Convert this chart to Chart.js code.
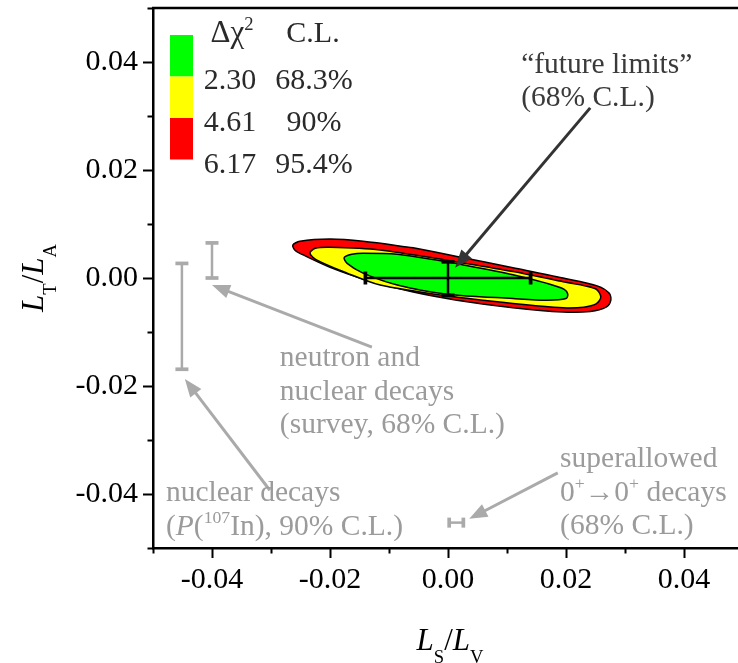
<!DOCTYPE html>
<html>
<head>
<meta charset="utf-8">
<script src="https://cdn.jsdelivr.net/npm/chart.js@4.4.0/dist/chart.umd.min.js"></script>
<style>
  html, body { margin: 0; padding: 0; background: #fff; }
  #wrap { width: 738px; height: 663px; }
</style>
</head>
<body>
<div id="wrap"><canvas id="chartLimites" width="738" height="663"></canvas></div>
<script>
// --- Datos: contornos de Δχ² en el plano (LS/LV, LT/LA) ---
const contour95X = [-0.0059, 0.0015, 0.0110, 0.0195, 0.0254, 0.0273, 0.0276, 0.0268, 0.0241, 0.0195, 0.0110, 0.0015, -0.0059, -0.0137, -0.0200, -0.0242, -0.0259, -0.0263, -0.0251, -0.0200, -0.0144, -0.0059];
const contour95Y = [0.0056, 0.0040, 0.0019, 0.0000, -0.0015, -0.0028, -0.0041, -0.0054, -0.0062, -0.0063, -0.0055, -0.0041, -0.0026, -0.0004, 0.0020, 0.0041, 0.0051, 0.0061, 0.0068, 0.0072, 0.0068, 0.0056];

const contour90X = [-0.0002, 0.0110, 0.0195, 0.0250, 0.0259, 0.0251, 0.0230, 0.0195, 0.0110, -0.0002, -0.0115, -0.0171, -0.0222, -0.0234, -0.0225, -0.0200, -0.0115, -0.0002];
const contour90Y = [0.0033, 0.0012, -0.0007, -0.0020, -0.0035, -0.0048, -0.0054, -0.0055, -0.0047, -0.0033, -0.0013, 0.0009, 0.0033, 0.0046, 0.0055, 0.0057, 0.0052, 0.0033];

const contour68X = [-0.0002, 0.0110, 0.0168, 0.0197, 0.0203, 0.0200, 0.0168, 0.0110, -0.0002, -0.0086, -0.0144, -0.0171, -0.0176, -0.0163, -0.0144, -0.0086, -0.0002];
const contour68Y = [0.0030, 0.0006, -0.0010, -0.0021, -0.0030, -0.0038, -0.0041, -0.0038, -0.0030, -0.0013, 0.0009, 0.0027, 0.0038, 0.0044, 0.0046, 0.0044, 0.0030];

// --- Leyenda ---
const deltaChi2 = ['2.30', '4.61', '6.17'];
const nivelesCL = ['68.3%', '90%', '95.4%'];
const coloresCL = ['#00ff00', '#ffff00', '#ff0000'];

// --- Barras de error (límites experimentales) ---
const neutronX = -0.0400;            // neutron and nuclear decays (survey)
const neutronY = [0.0000, 0.0065];
const indioX = -0.0451;              // nuclear decays P(107In)
const indioY = [-0.0169, 0.0027];
const superY = -0.0453;              // superallowed 0+ -> 0+
const superX = [0.0002, 0.0026];
const futuroH = [-0.0140, 0.0140];   // "future limits" en LS/LV (y = 0)
const futuroV = [-0.0032, 0.0030];   // "future limits" en LT/LA (x = 0)

// --- Ejes ---
const ejeX = { min: -0.05, max: 0.04915 };
const ejeY = { min: -0.05, max: 0.05 };

const SERIF = '"Liberation Serif", "Times New Roman", serif';
const GRIS = '#aaaaaa';
const GRIS_TEXTO = '#9b9b9b';

const zipXY = (xs, ys) => xs.map((x, i) => ({ x: x, y: ys[i] }));
const esMayor = v => Math.abs(Math.round(v * 100)) % 2 === 0;

// contorno cerrado relleno
const contorno = (xs, ys, color, order) => ({
    data: zipXY(xs, ys),
    showLine: true,
    fill: 'shape',
    backgroundColor: color,
    borderColor: '#000',
    borderWidth: 1.5,
    tension: 0.3,
    pointRadius: 0,
    order: order
});

// barra de error con topes (pointStyle 'line')
const barra = (pts, color, ancho, tope, rot, order) => ({
    data: pts,
    showLine: true,
    fill: false,
    borderColor: color,
    borderWidth: ancho,
    pointStyle: 'line',
    pointRadius: tope,
    pointBorderWidth: ancho + 1.2,
    pointBorderColor: color,
    pointRotation: rot,
    order: order
});

// --- Anotaciones (texto en gris con flechas) ---
const notas = [
    { x: 0.0124, y: 0.0380, color: '#3a3a3a', lineas: [
        [{ t: '\u201Cfuture limits\u201D' }],
        [{ t: '(68% C.L.)' }]
    ] },
    { x: -0.0285, y: -0.0163, color: GRIS_TEXTO, lineas: [
        [{ t: 'neutron and' }],
        [{ t: 'nuclear decays' }],
        [{ t: '(survey, 68% C.L.)' }]
    ] },
    { x: -0.0478, y: -0.0413, color: GRIS_TEXTO, lineas: [
        [{ t: 'nuclear decays' }],
        [{ t: '(' }, { t: 'P', it: true }, { t: '(' }, { t: '107', sup: true }, { t: 'In), 90% C.L.)' }]
    ] },
    { x: 0.0190, y: -0.0350, color: GRIS_TEXTO, lineas: [
        [{ t: 'superallowed' }],
        [{ t: '0' }, { t: '+', sup: true }, { t: '\u2192' }, { t: '0' }, { t: '+', sup: true }, { t: ' decays' }],
        [{ t: '(68% C.L.)' }]
    ] }
];

const flechas = [
    { de: [0.0186, -0.0361], a: [0.0036, -0.0446], color: GRIS },
    { de: [-0.0129, -0.0128], a: [-0.0400, -0.0013], color: GRIS },
    { de: [-0.0302, -0.0393], a: [-0.0446, -0.0187], color: GRIS },
    { de: [0.0241, 0.0315], a: [0.0012, 0.0019], color: '#333333' }
];

// texto con cursivas, subíndices y superíndices
function textoRico(ctx, runs, x, y, size, align) {
    const fuente = r => (r.it ? 'italic ' : '') + (r.sup || r.sub ? size * 0.6 : size) + 'px ' + SERIF;
    let total = 0;
    runs.forEach(r => { ctx.font = fuente(r); r.w = ctx.measureText(r.t).width; total += r.w; });
    let cx = align === 'center' ? x - total / 2 : x;
    runs.forEach(r => {
        ctx.font = fuente(r);
        const dy = r.sup ? -size * 0.40 : (r.sub ? size * 0.42 : 0);
        ctx.fillText(r.t, cx, y + dy);
        cx += r.w;
    });
}

function flecha(ctx, x0, y0, x1, y1, color) {
    const ang = Math.atan2(y1 - y0, x1 - x0);
    const largo = 18, semi = 7;
    const bx = x1 - Math.cos(ang) * largo, by = y1 - Math.sin(ang) * largo;
    ctx.strokeStyle = color;
    ctx.fillStyle = color;
    ctx.lineWidth = 3;
    ctx.beginPath();
    ctx.moveTo(x0, y0);
    ctx.lineTo(bx + Math.cos(ang) * 2, by + Math.sin(ang) * 2);
    ctx.stroke();
    ctx.beginPath();
    ctx.moveTo(x1, y1);
    ctx.lineTo(bx - Math.sin(ang) * semi, by + Math.cos(ang) * semi);
    ctx.lineTo(bx + Math.sin(ang) * semi, by - Math.cos(ang) * semi);
    ctx.closePath();
    ctx.fill();
}

// marco superior, marcas de los ejes, títulos, leyenda y notas
const extras = {
    id: 'extras',
    afterDraw(chart) {
        const { ctx, chartArea: a, scales: { x, y } } = chart;
        ctx.save();

        // marco superior y marcas
        ctx.strokeStyle = '#000';
        ctx.lineWidth = 2.5;
        ctx.beginPath();
        ctx.moveTo(a.left - 1, a.top);
        ctx.lineTo(a.right, a.top);
        ctx.stroke();
        ctx.lineWidth = 2;
        ctx.beginPath();
        x.ticks.forEach(t => {
            const px = Math.round(x.getPixelForValue(t.value)) + 0.5;
            ctx.moveTo(px, a.bottom);
            ctx.lineTo(px, a.bottom + (esMayor(t.value) ? 10 : 5.5));
        });
        y.ticks.forEach(t => {
            const py = Math.round(y.getPixelForValue(t.value)) + 0.5;
            ctx.moveTo(a.left, py);
            ctx.lineTo(a.left - (esMayor(t.value) ? 10 : 5.5), py);
        });
        ctx.stroke();

        // títulos de los ejes
        ctx.fillStyle = '#000';
        ctx.textBaseline = 'alphabetic';
        ctx.textAlign = 'left';
        textoRico(ctx, [{ t: 'L', it: true }, { t: 'S', sub: true }, { t: '/' }, { t: 'L', it: true }, { t: 'V', sub: true }],
            a.left + 297, 650, 31, 'center');
        ctx.save();
        ctx.translate(43, (a.top + a.bottom) / 2);
        ctx.rotate(-Math.PI / 2);
        textoRico(ctx, [{ t: 'L', it: true }, { t: 'T', sub: true }, { t: '/' }, { t: 'L', it: true }, { t: 'A', sub: true }],
            0, 0, 31, 'center');
        ctx.restore();

        // leyenda
        const lx = a.left + 17, ly = a.top + 27, alto = 41.5;
        coloresCL.forEach((c, i) => {
            ctx.fillStyle = c;
            ctx.fillRect(lx, ly + i * alto, 23, alto);
        });
        ctx.fillStyle = '#2a2a2a';
        textoRico(ctx, [{ t: '\u0394\u03C7' }, { t: '2', sup: true }], a.left + 79, a.top + 34, 31, 'center');
        textoRico(ctx, [{ t: 'C.L.' }], a.left + 160, a.top + 34, 30, 'center');
        deltaChi2.forEach((d, i) => {
            const by = a.top + 80.5 + i * 42;
            textoRico(ctx, [{ t: d }], a.left + 77, by, 30, 'center');
            textoRico(ctx, [{ t: nivelesCL[i] }], a.left + 161, by, 30, 'center');
        });

        // flechas y notas
        flechas.forEach(f => flecha(ctx,
            x.getPixelForValue(f.de[0]), y.getPixelForValue(f.de[1]),
            x.getPixelForValue(f.a[0]), y.getPixelForValue(f.a[1]), f.color));
        notas.forEach(n => {
            ctx.fillStyle = n.color;
            const px = x.getPixelForValue(n.x), py = y.getPixelForValue(n.y);
            n.lineas.forEach((runs, i) => textoRico(ctx, runs, px, py + i * 33.5, 29.5, 'left'));
        });

        ctx.restore();
    }
};

const ejeComun = (lim, padding, afterFit) => ({
    type: 'linear',
    min: lim.min,
    max: lim.max,
    grid: { drawOnChartArea: false, drawTicks: false },
    border: { display: true, color: '#000', width: 2.5 },
    ticks: {
        stepSize: 0.01,
        includeBounds: false,
        autoSkip: false,
        maxRotation: 0,
        padding: padding,
        color: '#000',
        font: { family: SERIF, size: 30 },
        callback: v => esMayor(v) ? (Math.abs(v) < 1e-9 ? '0.00' : v.toFixed(2)) : ''
    },
    afterFit: afterFit
});

new Chart(document.getElementById('chartLimites'), {
    type: 'scatter',
    data: {
        datasets: [
            contorno(contour95X, contour95Y, '#ff0000', 30),
            contorno(contour90X, contour90Y, '#ffff00', 20),
            contorno(contour68X, contour68Y, '#00ff00', 10),
            barra(zipXY(futuroH, [0, 0]), '#000', 2.5, 6.5, 90, 2),
            barra(zipXY([0, 0], futuroV), '#000', 2.5, 6.5, 0, 1),
            barra(zipXY([neutronX, neutronX], neutronY), GRIS, 2.5, 6.5, 0, 3),
            barra(zipXY([indioX, indioX], indioY), GRIS, 2.5, 6.5, 0, 3),
            barra(zipXY(superX, [superY, superY]), GRIS, 2.5, 5, 90, 3)
        ]
    },
    options: {
        responsive: false,
        animation: false,
        layout: { autoPadding: false, padding: { top: 8, left: 0, right: 0, bottom: 0 } },
        scales: {
            x: ejeComun(ejeX, 14, s => { s.height = 115; s.paddingLeft = 0; s.paddingRight = 0; }),
            y: ejeComun(ejeY, 15, s => { s.width = 153; s.paddingTop = 0; s.paddingBottom = 0; })
        },
        plugins: {
            legend: { display: false },
            tooltip: { enabled: false },
            title: { display: false }
        }
    },
    plugins: [extras]
});
</script>
</body>
</html>
